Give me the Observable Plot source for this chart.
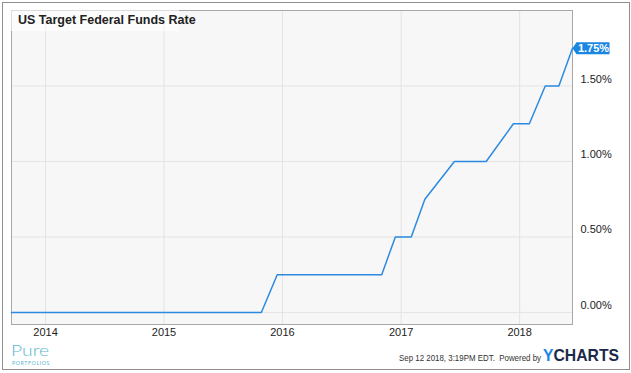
<!DOCTYPE html>
<html>
<head>
<meta charset="utf-8">
<script src="https://cdn.jsdelivr.net/npm/d3@7"></script>
<script src="https://cdn.jsdelivr.net/npm/@observablehq/plot@0.6"></script>
<style>
  html, body { margin: 0; padding: 0; background: #fff; }
  #wrap { position: relative; width: 631px; height: 373px; overflow: hidden; font-family: "Liberation Sans", Arial, sans-serif; }
  #wrap svg { position: absolute; left: 0; top: 0; }
  .border { position: absolute; left: 2px; top: 2px; width: 628px; height: 368px; box-sizing: border-box; border: 1.5px solid #8e8e8e; pointer-events: none; }
  .titlebox { position: absolute; left: 11px; top: 10px; width: 168px; height: 21px; background: rgba(255,255,255,0.6); }
  .title { position: absolute; left: 18px; top: 12px; font-weight: bold; font-size: 12.5px; color: #222; line-height: 16px; white-space: nowrap; }
  .fit { transform-origin: 0 0; white-space: nowrap; }
  .stamp { position: absolute; left: 399px; top: 352px; font-size: 9.6px; line-height: 11px; color: #333; }
  .brand { position: absolute; left: 543px; top: 347px; font-size: 17px; line-height: 17px; font-weight: bold; }
  .brand .y { color: #1a86e3; }
  .brand .c { color: #1b2a4a; }
  .pure { position: absolute; left: 11px; top: 340px; font-family: Lato, "Open Sans", sans-serif; font-weight: 300; font-size: 16px; color: #5cb6d2; line-height: 19px; height: 19px; }
  .portfolios { position: absolute; left: 12px; top: 360px; font-family: Lato, "Open Sans", sans-serif; font-size: 5.5px; line-height: 6px; color: #5cb6d2; letter-spacing: 0.6px; }
</style>
</head>
<body>
<div id="wrap"></div>
<script>
// ---- data ----
const title = "US Target Federal Funds Rate";
const dates = ["2013-09-18","2015-10-28","2015-12-16","2016-11-02","2016-12-14","2017-02-01","2017-03-15","2017-06-14","2017-09-20","2017-12-13","2018-01-31","2018-03-21","2018-05-02","2018-06-13"];
const rates = [0, 0, 0.25, 0.25, 0.5, 0.5, 0.75, 1.0, 1.0, 1.25, 1.25, 1.5, 1.5, 1.75];
const yearTicks = ["2014-01-01","2015-01-01","2016-01-01","2017-01-01","2018-01-01"];
const rateTicks = [0, 0.5, 1.0, 1.5];
const stampText = "Sep 12 2018, 3:19PM EDT.  Powered by";

const data = dates.map((d, i) => ({date: new Date(d + "T00:00:00Z"), rate: rates[i]}));
const last = data[data.length - 1];
const xTicks = yearTicks.map(d => new Date(d + "T00:00:00Z"));
const fmtPct = d => d.toFixed(2) + "%";

const labelShape = {
  draw(ctx) {
    ctx.moveTo(0, 0);
    ctx.lineTo(4, -6);
    ctx.lineTo(37, -6);
    ctx.lineTo(37, 6);
    ctx.lineTo(4, 6);
    ctx.closePath();
  }
};

const chart = Plot.plot({
  width: 631,
  height: 373,
  marginLeft: 11,
  marginRight: 59,
  marginTop: 10,
  marginBottom: 49,
  style: {fontFamily: "Liberation Sans, Arial, sans-serif", fontSize: "11px", color: "#333", background: "transparent"},
  x: {type: "utc", domain: [data[0].date, last.date]},
  y: {domain: [-0.08, 2.0]},
  marks: [
    Plot.frame({fill: "#f7f7f7", stroke: null}),
    Plot.gridX(xTicks, {stroke: "#e3e3e3", strokeOpacity: 1}),
    Plot.gridY(rateTicks, {stroke: "#e3e3e3", strokeOpacity: 1}),
    Plot.frame({stroke: "#a8a8a8"}),
    Plot.axisX({ticks: xTicks, tickSize: 0, tickPadding: 4, tickFormat: d3.utcFormat("%Y"), label: null, fill: "#222"}),
    Plot.axisY({anchor: "right", ticks: rateTicks, tickSize: 0, tickPadding: 8, dy: -7, tickFormat: fmtPct, label: null, fill: "#222"}),
    Plot.line(data, {x: "date", y: "rate", stroke: "#2b8ae0", strokeWidth: 1.5}),
    Plot.dot([last], {x: "date", y: "rate", r: 1, symbol: labelShape, fill: "#1a86e3", stroke: null}),
    Plot.text([last], {x: "date", y: "rate", text: d => fmtPct(d.rate), dx: 21, fill: "white", fontWeight: "bold", fontSize: 11})
  ]
});

const wrap = document.getElementById("wrap");
wrap.appendChild(chart);

function addDiv(cls, html, fitWidth) {
  const el = document.createElement("div");
  el.className = cls;
  el.innerHTML = html;
  wrap.appendChild(el);
  if (fitWidth) {
    el.classList.add("fit");
    const w = el.getBoundingClientRect().width;
    if (w > 0) el.style.transform = `scaleX(${fitWidth / w})`;
  }
  return el;
}
addDiv("titlebox", "");
const t = addDiv("title", ""); t.textContent = title;
addDiv("stamp", stampText.replace(/  /g, "&nbsp; "), 142);
addDiv("brand", '<span class="y">Y</span><span class="c">CHARTS</span>', 76);
addDiv("pure", "Pure", 38);
addDiv("portfolios", "PORTFOLIOS", 38);
addDiv("border", "");
</script>
</body>
</html>
